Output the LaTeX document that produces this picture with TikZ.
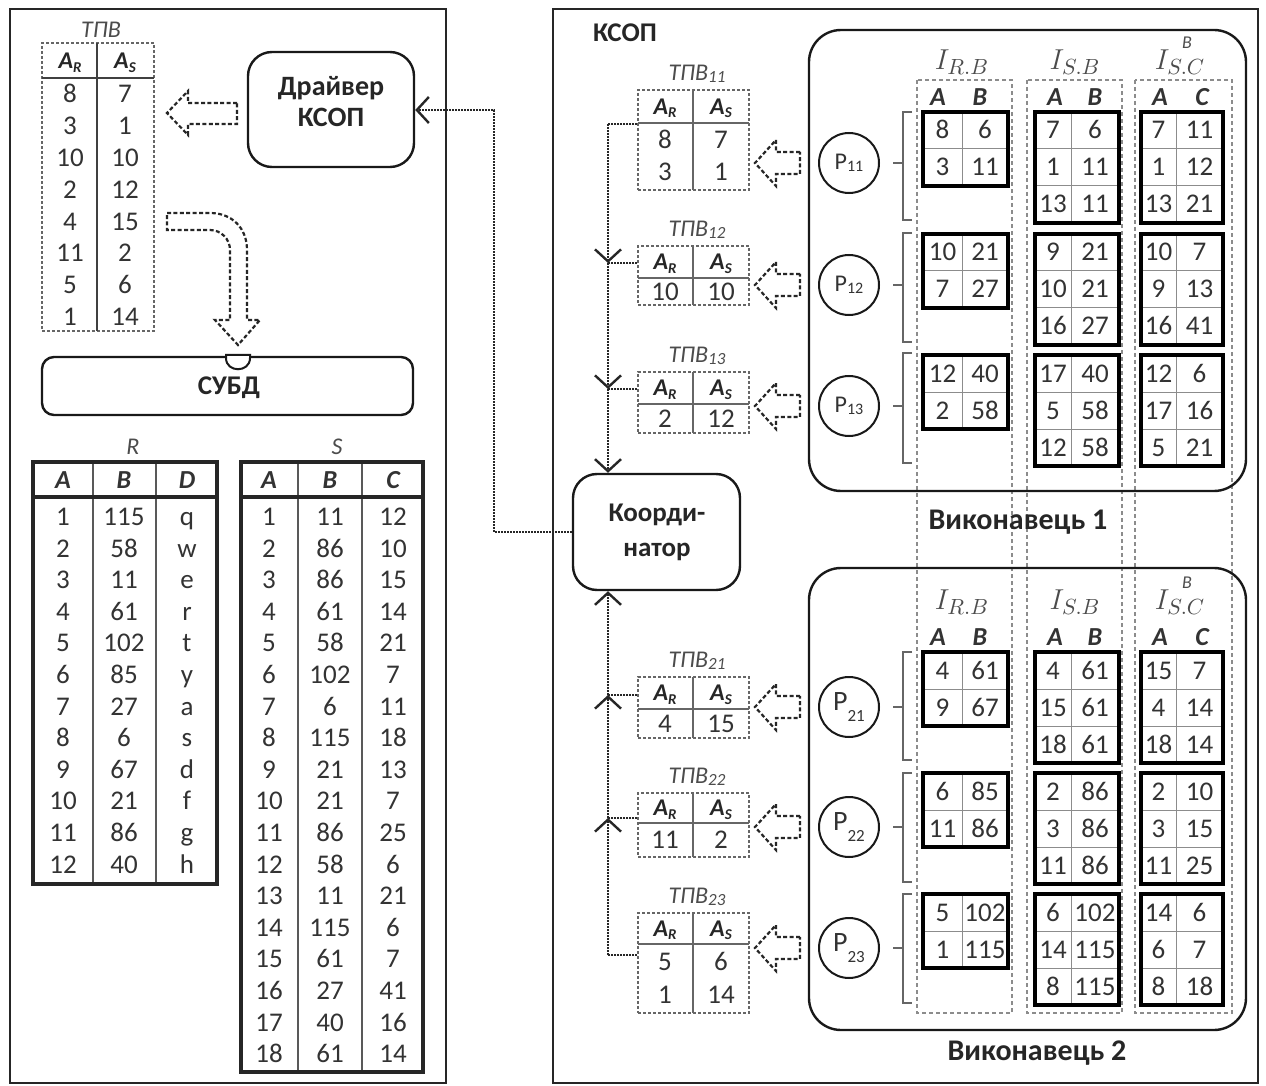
\documentclass[tikz,border=0pt]{standalone}
\usepackage{fontspec}
\setmainfont{Carlito}
\usetikzlibrary{arrows.meta,calc}
\definecolor{tg}{HTML}{333333}
\newcommand\AR{{\bfseries\itshape A\raisebox{-0.3ex}{\fontsize{7.5}{8}\selectfont R}}}
\newcommand\AS{{\bfseries\itshape A\raisebox{-0.3ex}{\fontsize{7.5}{8}\selectfont S}}}
\newcommand\tpvl[1]{ТПВ\raisebox{-0.15ex}{\fontsize{8.5}{9}\selectfont #1}}
\newcommand\ixblock[7]{%
  \pgfmathtruncatemacro\nmone{#6-1}%
  \foreach \k in {1,...,\nmone}{\draw[ixline] (#2,{#5+37*\k}) -- (#4,{#5+37*\k});}%
  \draw[ixline] (#3,#5) -- (#3,{#5+37*#6});%
  \foreach \a/\b [count=\i] in {#7}{%
    \node[txt] (#1a\i) at ({(#2+#3)/2},{#5+37*\i-18.5}) {\a};%
    \node[txt] (#1b\i) at ({(#3+#4)/2},{#5+37*\i-18.5}) {\b};%
  }%
  \draw[ixbox] (#2,#5) rectangle (#4,{#5+37*#6});%
}
\newcommand\harrow[1]{%
  \draw[hollow] (800,{#1-11}) -- (776,{#1-11}) -- (776,{#1-23}) -- (755,#1) -- (776,{#1+23}) -- (776,{#1+11}) -- (800,{#1+11}) -- cycle;}
\newcommand\brkt[3]{%
  \draw[brk] (912,#1) -- (903,#1) -- (903,#2) -- (912,#2);
  \draw[brk] (893,#3) -- (903,#3);}
\begin{document}
\begin{tikzpicture}[x=0.5pt,y=-0.5pt,
  panel/.style={draw=black!85, line width=1.4pt},
  rbox/.style={draw=black!90, line width=1.2pt, rounded corners=12pt, inner sep=0pt},
  txt/.style={font=\fontsize{13.5}{16}\selectfont, text=tg, inner sep=0pt, text height=8.5pt, text depth=0pt},
  bhdr/.style={font=\fontsize{13}{16}\selectfont\bfseries\itshape, text=black!80, inner sep=0pt, text height=8.4pt, text depth=0pt},
  thdr/.style={font=\fontsize{12}{14}\selectfont, text=black!85, inner sep=0pt, text height=7.6pt, text depth=0pt},
  lbl/.style={font=\fontsize{12}{14}\selectfont\itshape, text=black!70, inner sep=0pt},
  ttl/.style={font=\fontsize{14}{15.5}\selectfont\bfseries, text=black!85, align=center, inner sep=0pt},
  dtab/.style={draw=black!60, dash pattern=on 1.5pt off 1pt, line width=0.7pt},
  tline/.style={draw=black!75, line width=0.7pt},
  bigtab/.style={draw=black!85, line width=1.8pt},
  colline/.style={draw=black!65, line width=0.8pt},
  ixbox/.style={draw=black, line width=2.3pt},
  ixline/.style={draw=black!45, line width=0.5pt},
  colrect/.style={draw=black!45, dash pattern=on 2pt off 1.5pt, line width=0.6pt},
  hollow/.style={draw=black!85, line width=1.1pt, dash pattern=on 2pt off 1.2pt, fill=white},
  conn/.style={draw=black!85, line width=1.1pt, dash pattern=on 1pt off 0.5pt},
  arr/.style={-{Straight Barb[length=6pt,width=13pt,line width=1.2pt]}},
  brk/.style={draw=black!60, line width=0.6pt},
  ixlbl/.style={text=black!70, font=\fontsize{15}{17}\selectfont, inner sep=0pt},
  circ/.style={circle, draw=black!90, line width=1pt, minimum size=30pt, inner sep=0pt, text=tg},
  exbox/.style={draw=black!90, line width=1.2pt, rounded corners=16pt, inner sep=0pt},
]
\useasboundingbox (0,0) rectangle (1266,1086);
\fill[white] (0,0) rectangle (1266,1086);

% ---------- panels
\draw[panel] (10,9) rectangle (446,1083);
\draw[panel] (553,9) rectangle (1258,1083);

% ---------- left: main TPV table
\node[lbl] (tpvlbl) at (101,30) {ТПВ};
\node[dtab, minimum width=56pt, minimum height=144pt, inner sep=0pt] (tpv) at (98,187) {};
\draw[tline] (42,78) -- (154,78);
\draw[tline] (97,43) -- (97,331);
\node[thdr] (tpvh1) at (70,61) {\AR};
\node[thdr] (tpvh2) at (125,61) {\AS};
\foreach \a/\b [count=\i] in {8/7,3/1,10/10,2/12,4/15,11/2,5/6,1/14}{
  \node[txt] (tpa\i) at (70,{94+31.9*(\i-1)}) {\a};
  \node[txt] (tpb\i) at (125,{94+31.9*(\i-1)}) {\b};
}

% ---------- driver
\node[rbox, minimum width=83pt, minimum height=57.5pt] (drv) at (331,109.5) {};
\node[ttl] (drvt) at (331,102) {Драйвер\\КСОП};

% hollow arrow driver -> TPV
\draw[hollow] (237,103) -- (188,103) -- (188,91) -- (167,113) -- (188,135) -- (188,124) -- (237,124) -- cycle;

% ---------- DBMS
\node[rbox, rounded corners=6pt, minimum width=185.5pt, minimum height=29pt] (dbms) at (227.5,386) {};
\node[ttl, font=\fontsize{13.5}{15}\selectfont\bfseries] (dbmst) at (229,388) {СУБД};
\draw[draw=black!90, line width=1pt, fill=white] (226,355) -- (250,355) -- (250,358) .. controls (250,373) and (226,373) .. (226,358) -- cycle;

% bent hollow arrow TPV -> DBMS
\draw[hollow] (167,213) -- (210,213) .. controls (232,213) and (247,228) .. (247,250) -- (247,320) -- (260,320) -- (238,345) -- (215,320) -- (230,320) -- (230,250) .. controls (230,239) and (221,230) .. (210,230) -- (167,230) -- cycle;

% ---------- table R
\node[lbl] (rlbl) at (133,447) {R};
\draw[colline] (93,462) -- (93,884);
\draw[colline] (156,462) -- (156,884);
\draw[bigtab] (33,497) -- (217,497);
\node[bhdr] (rh1) at (63,480) {A};
\node[bhdr] (rh2) at (124,480) {B};
\node[bhdr] (rh3) at (187,480) {D};
\foreach \b/\d [count=\i] in {115/q,58/w,11/e,61/r,102/t,85/y,27/a,6/s,67/d,21/f,86/g,40/h}{
  \node[txt] (ra\i) at (63,{517+31.6*(\i-1)}) {\i};
  \node[txt] (rb\i) at (124,{517+31.6*(\i-1)}) {\b};
  \node[txt] (rd\i) at (187,{517+31.6*(\i-1)}) {\d};
}
\draw[bigtab] (33,462) rectangle (217,884);

% ---------- table S
\node[lbl] (slbl) at (337,447) {S};
\draw[colline] (298,462) -- (298,1072);
\draw[colline] (362,462) -- (362,1072);
\draw[bigtab] (241,497) -- (423,497);
\node[bhdr] (sh1) at (269,480) {A};
\node[bhdr] (sh2) at (330,480) {B};
\node[bhdr] (sh3) at (393,480) {C};
\foreach \b/\c [count=\i] in {11/12,86/10,86/15,61/14,58/21,102/7,6/11,115/18,21/13,21/7,86/25,58/6,11/21,115/6,61/7,27/41,40/16,61/14}{
  \node[txt] (sa\i) at (269,{517+31.6*(\i-1)}) {\i};
  \node[txt] (sb\i) at (330,{517+31.6*(\i-1)}) {\b};
  \node[txt] (sc\i) at (393,{517+31.6*(\i-1)}) {\c};
}
\draw[bigtab] (241,462) rectangle (423,1072);

% ---------- right panel
\node[ttl, font=\fontsize{13.5}{15}\selectfont\bfseries] (ksop) at (625,33) {КСОП};

% dashed index columns
\draw[colrect] (917,80) rectangle (1012,1013);
\draw[colrect] (1027,80) rectangle (1122,1013);
\draw[colrect] (1135,80) rectangle (1232,1013);

% executor boxes
\node[exbox, minimum width=218.5pt, minimum height=230.5pt] (ex1) at (1027.5,260.5) {};
\node[exbox, minimum width=218.5pt, minimum height=231pt] (ex2) at (1027.5,799) {};
\node[ttl, font=\fontsize{15}{17}\selectfont\bfseries] (ex1t) at (1018,522) {Виконавець 1};
\node[ttl, font=\fontsize{15}{17}\selectfont\bfseries] (ex2t) at (1037,1053) {Виконавець 2};

% coordinator
\node[rbox, minimum width=83.5pt, minimum height=58pt] (koord) at (656.5,532) {};
\node[ttl, font=\fontsize{13.5}{17.5}\selectfont\bfseries] (koordt) at (657,532) {Коорди-\\натор};

% TPV tables in KSOP
\foreach \nm/\yt/\yl/\yb/\lab in {t11/90/123/190/11, t12/246/278/305/12, t13/372/404/433/13, t21/677/709/738/21, t22/793/823/857/22, t23/913/944/1013/23}{
  \node[dtab, inner sep=0pt, minimum width=55.5pt, minimum height={(\yb-\yt)/2*1pt}] (\nm) at (693.5,{(\yt+\yb)/2}) {};
  \draw[tline, draw=black!60] (638,\yl) -- (749,\yl);
  \draw[tline, draw=black!60] (693,\yt) -- (693,\yb);
  \node[thdr] (\nm h1) at (665,{(\yt+\yl)/2}) {\AR};
  \node[thdr] (\nm h2) at (721,{(\yt+\yl)/2}) {\AS};
  \node[lbl] (\nm l) at (697,{\yt-16}) {\tpvl{\lab}};
}
\node[txt] (t11a1) at (665,140) {8};  \node[txt] (t11b1) at (721,140) {7};
\node[txt] (t11a2) at (665,172) {3};  \node[txt] (t11b2) at (721,172) {1};
\node[txt] (t12a1) at (665,292) {10}; \node[txt] (t12b1) at (721,292) {10};
\node[txt] (t13a1) at (665,419) {2};  \node[txt] (t13b1) at (721,419) {12};
\node[txt] (t21a1) at (665,724) {4};  \node[txt] (t21b1) at (721,724) {15};
\node[txt] (t22a1) at (665,840) {11}; \node[txt] (t22b1) at (721,840) {2};
\node[txt] (t23a1) at (665,962) {5};  \node[txt] (t23b1) at (721,962) {6};
\node[txt] (t23a2) at (665,995) {1};  \node[txt] (t23b2) at (721,995) {14};

% connectors TPV -> coordinator
\coordinate (j11) at (608,124);
\coordinate (j12) at (608,263);
\coordinate (j13) at (608,389);
\coordinate (j21) at (608,695);
\coordinate (j22) at (608,818);
\coordinate (j23) at (608,955);
\draw[conn] (t11.west |- j11) -- (j11);
\draw[conn,arr] (j11) -- (j12);
\draw[conn] (t12.west |- j12) -- (j12);
\draw[conn,arr] (j12) -- (j13);
\draw[conn] (t13.west |- j13) -- (j13);
\draw[conn,arr] (j13) -- (j13 |- koord.north);
\draw[conn] (t23.west |- j23) -- (j23);
\draw[conn,arr] (j23) -- (j22);
\draw[conn] (t22.west |- j22) -- (j22);
\draw[conn,arr] (j22) -- (j21);
\draw[conn] (t21.west |- j21) -- (j21);
\draw[conn,arr] (j21) -- (j21 |- koord.south);

% coordinator -> driver
\coordinate (c1) at (494,532);
\coordinate (c2) at (494,110);
\draw[conn,arr] (koord.west) -- (c1) -- (c2) -- (drv.east |- c2);

% processes
\foreach \nm/\y/\s in {p11/163/11, p12/285/12, p13/406/13}{
  \node[circ] (\nm) at (849,\y) {\fontsize{12}{14}\selectfont P\raisebox{-0.2ex}{\fontsize{8}{9}\selectfont\s}};
  \harrow{\y}
}
\foreach \nm/\y/\s in {p21/707/21, p22/827/22, p23/948/23}{
  \node[circ] (\nm) at (849,\y) {\fontsize{14}{16}\selectfont P\raisebox{-0.8ex}{\fontsize{8.5}{9}\selectfont\s}};
  \harrow{\y}
}

% brackets
\brkt{112}{220}{163}
\brkt{233}{342}{285}
\brkt{353}{463}{406}
\brkt{652}{760}{707}
\brkt{773}{882}{827}
\brkt{894}{1003}{948}

% index labels and column headers
\foreach \yl/\yh/\e in {62/97/a, 602/637/b}{
  \node[ixlbl] (i1\e) at (962,\yl) {$I_{R.B}$};
  \node[ixlbl] (i2\e) at (1075,\yl) {$I_{S.B}$};
  \node[ixlbl] (i3\e) at (1180,\yl) {$I_{S.C}$};
  \node[ixlbl, font=\fontsize{9}{10}\selectfont\itshape] (i3s\e) at (1187,{\yl-19}) {B};
  \node[bhdr] (h1\e) at (938,\yh) {A};
  \node[bhdr] (h2\e) at (980,\yh) {B};
  \node[bhdr] (h3\e) at (1055,\yh) {A};
  \node[bhdr] (h4\e) at (1095,\yh) {B};
  \node[bhdr] (h5\e) at (1160,\yh) {A};
  \node[bhdr] (h6\e) at (1202,\yh) {C};
}

% index blocks: executor 1
\ixblock{x11r}{923}{962}{1008}{112}{2}{8/6,3/11}
\ixblock{x11s}{1035}{1071}{1119}{112}{3}{7/6,1/11,13/11}
\ixblock{x11c}{1141}{1176}{1223}{112}{3}{7/11,1/12,13/21}
\ixblock{x12r}{923}{962}{1008}{234}{2}{10/21,7/27}
\ixblock{x12s}{1035}{1071}{1119}{234}{3}{9/21,10/21,16/27}
\ixblock{x12c}{1141}{1176}{1223}{234}{3}{10/7,9/13,16/41}
\ixblock{x13r}{923}{962}{1008}{355}{2}{12/40,2/58}
\ixblock{x13s}{1035}{1071}{1119}{355}{3}{17/40,5/58,12/58}
\ixblock{x13c}{1141}{1176}{1223}{355}{3}{12/6,17/16,5/21}
% executor 2
\ixblock{x21r}{923}{962}{1008}{652}{2}{4/61,9/67}
\ixblock{x21s}{1035}{1071}{1119}{652}{3}{4/61,15/61,18/61}
\ixblock{x21c}{1141}{1176}{1223}{652}{3}{15/7,4/14,18/14}
\ixblock{x22r}{923}{962}{1008}{773}{2}{6/85,11/86}
\ixblock{x22s}{1035}{1071}{1119}{773}{3}{2/86,3/86,11/86}
\ixblock{x22c}{1141}{1176}{1223}{773}{3}{2/10,3/15,11/25}
\ixblock{x23r}{923}{962}{1008}{894}{2}{5/102,1/115}
\ixblock{x23s}{1035}{1071}{1119}{894}{3}{6/102,14/115,8/115}
\ixblock{x23c}{1141}{1176}{1223}{894}{3}{14/6,6/7,8/18}
\end{tikzpicture}
\end{document}
